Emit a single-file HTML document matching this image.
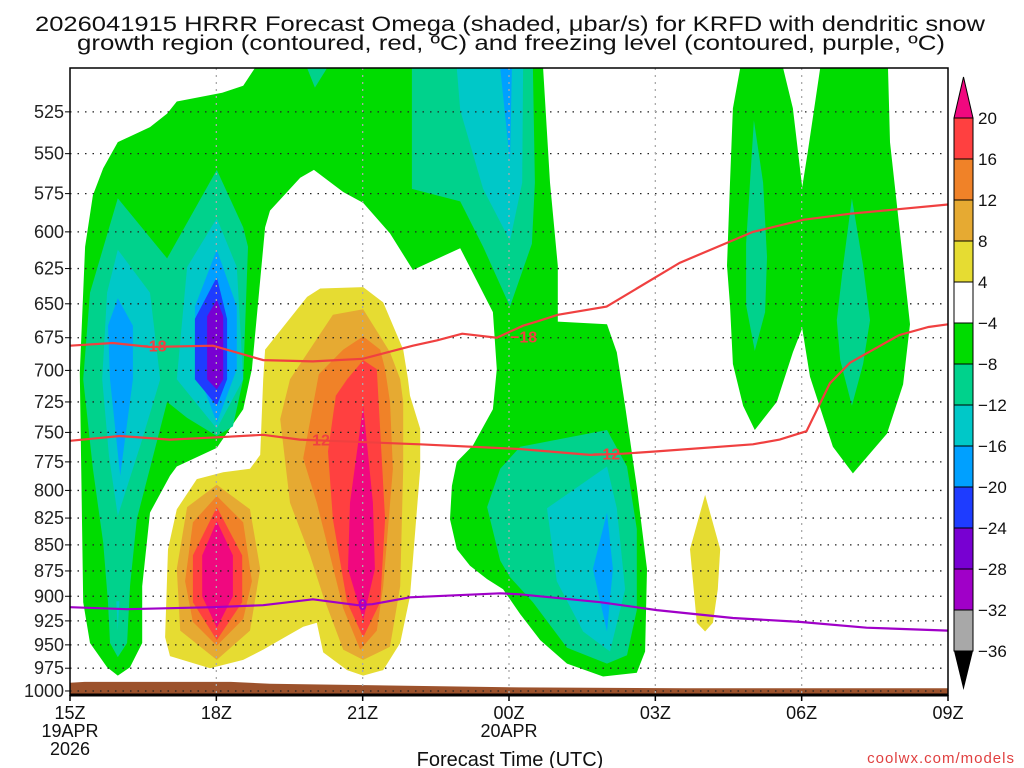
<!DOCTYPE html>
<html><head><meta charset="utf-8"><style>
html,body{margin:0;padding:0;background:#fff;}
svg{display:block;font-family:"Liberation Sans",sans-serif;}
</style></head><body>
<svg id="chart" width="1024" height="768" viewBox="0 0 1024 768" xmlns="http://www.w3.org/2000/svg">
<rect width="1024" height="768" fill="#fff"/>
<text x="35" y="31" font-size="21" fill="#111" textLength="950" lengthAdjust="spacingAndGlyphs">2026041915 HRRR Forecast Omega (shaded, μbar/s) for KRFD with dendritic snow</text>
<text x="77" y="50" font-size="21" fill="#111" textLength="868" lengthAdjust="spacingAndGlyphs">growth region (contoured, red, ºC) and freezing level (contoured, purple, ºC)</text>
<g id="shading"></g>
<g id="terrain"></g>
<g id="grid"></g>
<g id="lines"></g>
<g id="axes"></g>
<g id="cbar"></g>
<text x="510" y="766" font-size="20" fill="#111" text-anchor="middle">Forecast Time (UTC)</text>
<text x="1015" y="763" font-size="15" fill="#e04040" text-anchor="end" letter-spacing="1">coolwx.com/models</text>
</svg>
<script>
// ---- data (hours since 15Z, hPa) ----
const pressureTicks=[525,550,575,600,625,650,675,700,725,750,775,800,825,850,875,900,925,950,975,1000];
const hourTicks=[0,3,6,9,12,15,18];
const hourLabels=["15Z","18Z","21Z","00Z","03Z","06Z","09Z"];
const cbarLevels=[20,16,12,8,4,-4,-8,-12,-16,-20,-24,-28,-32,-36];
const cbarColors=["#ff4040","#f08228","#e6aa32","#e6dc32","#ffffff","#00dc00","#00d28c","#00c8c8","#00a0ff","#1e3cff","#7800d2","#a000c8","#a8a8a8"];

const greenMain=[[0.98,983],[0.76,974],[0.41,948],[0.27,906],[0.2,702],[0.31,610],[0.47,576],[0.68,559],[0.98,543],[1.64,534],[1.99,526],[2.19,519],[3.12,514],[3.55,510],[3.79,500],[9.70,500],[9.84,568],[10.0,623],[10.0,663],[11.01,665],[11.21,686],[11.38,728],[11.62,797],[11.83,873],[11.79,957],[11.62,980],[10.93,984],[10.19,970],[9.64,945],[9.23,918],[8.88,893],[8.55,883],[8.2,870],[7.93,854],[7.79,826],[7.83,796],[7.93,775],[8.26,761],[8.67,731],[8.75,699],[8.67,656],[8.0,611],[7.03,626],[6.56,601],[6.01,581],[5.60,574],[5.0,560],[4.72,565],[4.10,586],[4.0,597],[3.73,699],[3.55,731],[3.01,763],[2.19,779],[2.05,787],[1.64,820],[1.48,890],[1.48,948],[1.23,974]];
const greenRight=[[13.74,500],[14.62,500],[14.82,523],[15.01,571],[15.13,548],[15.38,500],[16.77,500],[16.81,543],[17.22,665],[17.08,711],[16.75,751],[16.05,785],[15.64,762],[15.17,705],[15.01,668],[14.82,686],[14.49,725],[14.04,748],[13.80,728],[13.59,695],[13.53,651],[13.47,623],[13.53,568],[13.59,523]];
const tealTopNotch=[[4.86,500],[5.02,511],[5.27,500]];
const tealUpper00=[[7.01,500],[7.01,572],[8.0,580],[8.47,610],[9.02,652],[9.47,608],[9.53,568],[9.49,500]];
const cyanUpper00=[[7.93,500],[8.0,524],[8.47,572],[9.02,606],[9.27,568],[9.29,500]];
const blueUpper00=[[8.82,500],[9.02,555],[9.06,500]];
const tealLeft=[[0.98,578],[0.41,642],[0.27,707],[0.47,781],[0.68,848],[0.78,906],[0.82,948],[0.98,963],[1.17,948],[1.23,890],[1.37,826],[1.99,725],[2.4,738],[3.01,753],[3.34,745],[3.55,707],[3.65,610],[3.55,597],[3.01,560],[1.99,618]];
const cyanLeft1=[[0.98,612],[0.76,642],[0.66,707],[0.8,770],[0.98,823],[1.45,760],[1.85,707],[1.64,642]];
const cyanLeft1b=[[0.95,905],[0.98,935],[1.01,905]];
const cyanLeft2=[[3.01,591],[2.40,624],[2.19,707],[3.01,747],[3.55,707],[3.42,624]];
const blueLeft1=[[0.98,646],[0.78,666],[0.82,707],[1.03,787],[1.29,707],[1.29,666]];
const blueLeft2=[[3.01,612],[2.56,652],[2.60,699],[3.01,742],[3.42,699],[3.42,652]];
const dblueLeft2=[[3.01,631],[2.56,661],[2.56,707],[3.01,728],[3.22,707],[3.22,661]];
const purpleLeft2=[[3.01,647],[2.81,659],[2.81,707],[3.01,715],[3.14,707],[3.14,659]];
const yellowCenter=[[6.01,638],[5.13,639],[4.86,645],[4.0,684],[3.96,707],[3.90,769],[3.69,781],[3.14,784],[2.60,790],[2.19,817],[2.01,854],[1.95,942],[2.05,962],[2.87,975],[3.55,966],[3.96,955],[4.78,931],[5.06,927],[5.19,958],[5.68,977],[6.01,983],[6.42,977],[6.77,948],[6.97,900],[7.18,781],[7.18,747],[6.97,720],[6.93,707],[6.83,684],[6.42,649]];
const ltOrangeCenter=[[6.01,654],[5.39,658],[4.51,707],[4.31,739],[4.51,811],[4.92,860],[5.19,900],[5.60,955],[6.01,966],[6.56,952],[6.77,890],[6.83,781],[6.83,725],[6.77,707],[6.56,686]];
const ltOrangeLeft=[[3.01,795],[2.40,815],[2.19,873],[2.26,935],[3.01,966],[3.69,935],[3.90,873],[3.69,817]];
const orangeCenter=[[6.01,674],[5.60,684],[5.1,703],[4.78,772],[5.06,811],[5.33,860],[5.60,912],[5.95,955],[6.29,935],[6.42,890],[6.62,781],[6.56,725],[6.46,699],[6.36,684]];
const orangeLeft=[[3.01,805],[2.52,829],[2.36,885],[2.52,926],[3.01,951],[3.55,923],[3.73,885],[3.55,829]];
const redCenter=[[6.01,692],[5.68,707],[5.45,720],[5.29,766],[5.39,826],[5.68,906],[6.01,942],[6.36,906],[6.46,826],[6.29,699]];
const redLeft=[[3.01,815],[2.52,860],[2.52,906],[3.01,945],[3.53,906],[3.53,860]];
const magentaCenter=[[6.01,728],[5.74,811],[5.70,873],[6.01,924],[6.25,873],[6.21,811]];
const magentaLeft=[[3.01,828],[2.71,860],[2.71,900],[3.01,932],[3.34,900],[3.34,860]];
const tealLower=[[9.23,762],[11.01,748],[11.42,779],[11.62,835],[11.62,914],[11.42,961],[11.01,970],[10.19,953],[9.49,906],[9.02,881],[8.82,865],[8.55,815],[8.82,781]];
const cyanLower=[[9.78,816],[11.01,779],[11.21,816],[11.38,893],[11.07,957],[10.52,936],[9.98,885]];
const blueLower=[[11.01,820],[11.13,873],[11.01,936],[10.72,873]];
const yellowSmall=[[13.02,804],[13.33,854],[13.28,893],[13.18,927],[13.02,936],[12.85,927],[12.71,854]];
const tealRight1=[[14.02,530],[14.21,568],[14.29,617],[14.25,656],[14.04,685],[13.86,651],[13.86,608]];
const tealRight2=[[16.03,578],[16.26,623],[16.40,662],[16.26,695],[16.03,728],[15.79,692],[15.72,662],[15.85,623]];

const terrainTop=[[0,991],[0.3,990],[3.3,990],[4.1,992],[9.2,996],[12.6,997],[18,997]];
const lineMinus18=[[0,681],[0.88,679],[1.64,682],[2.93,681],[3.96,692],[4.98,693],[6.0,691],[7.03,681],[7.52,677],[8.04,672],[8.75,675],[9.29,666],[9.57,663],[10.0,658],[11.0,652],[12.5,621],[14.0,600],[15.03,592],[16.0,588],[18,582]];
const lineMinus12=[[0,757],[1.02,753],[2.05,756],[3.07,754],[3.96,752],[4.71,756],[5.33,757],[7.17,760],[9.22,764],[10.66,769],[11.33,768],[12.03,766],[14.0,760],[14.55,756],[15.1,749],[15.58,710],[15.99,694],[17.0,673],[17.6,667],[18,665]];
const lineZero=[[0,911],[1.17,913],[2.93,911],[3.96,909],[4.98,903],[5.9,909],[6.2,908],[6.97,901],[8.82,897],[9.22,898],[10.87,906],[12.03,914],[13.59,922],[14.96,926],[16.33,932],[18,935]];
const contourLabels=[{t:"−18",h:1.7,p:681,c:"#f04040"},{t:"−18",h:9.3,p:674,c:"#f04040"},{t:"−12",h:5.05,p:756,c:"#f04040"},{t:"−12",h:11.0,p:768,c:"#f04040"},{t:"0",h:6.0,p:908,c:"#a000c8"}];

// ---- axis functions ----
const L=70,R=948,T=68,B=695,P0=500,P1=1004.5;
const X=h=>L+h*(R-L)/18;
const Y=p=>T+Math.log(p/P0)/Math.log(P1/P0)*(B-T);
const NS="http://www.w3.org/2000/svg";
function mk(tag,attrs,parent){const e=document.createElementNS(NS,tag);for(const k in attrs)e.setAttribute(k,attrs[k]);parent.appendChild(e);return e;}
const pts=a=>a.map(d=>X(d[0]).toFixed(1)+","+Y(d[1]).toFixed(1)).join(" ");

const shading=document.getElementById("shading");
const layers=[
 [greenMain,"#00dc00","omega-4-main"],[greenRight,"#00dc00","omega-4-right"],
 [tealTopNotch,"#00d28c","omega-8-notch"],[tealUpper00,"#00d28c","omega-8-upper"],[tealLeft,"#00d28c","omega-8-left"],[tealLower,"#00d28c","omega-8-lower"],[tealRight1,"#00d28c","omega-8-right1"],[tealRight2,"#00d28c","omega-8-right2"],
 [cyanUpper00,"#00c8c8","omega-12-upper"],[cyanLeft1,"#00c8c8","omega-12-left1"],[cyanLeft1b,"#00c8c8","omega-12-left1b"],[cyanLeft2,"#00c8c8","omega-12-left2"],[cyanLower,"#00c8c8","omega-12-lower"],
 [blueUpper00,"#00a0ff","omega-16-upper"],[blueLeft1,"#00a0ff","omega-16-left1"],[blueLeft2,"#00a0ff","omega-16-left2"],[blueLower,"#00a0ff","omega-16-lower"],
 [dblueLeft2,"#1e3cff","omega-20-left2"],[purpleLeft2,"#7800d2","omega-24-left2"],
 [yellowCenter,"#e6dc32","omega4-center"],[yellowSmall,"#e6dc32","omega4-small"],
 [ltOrangeCenter,"#e6aa32","omega8-center"],[ltOrangeLeft,"#e6aa32","omega8-left"],
 [orangeCenter,"#f08228","omega12-center"],[orangeLeft,"#f08228","omega12-left"],
 [redCenter,"#ff4040","omega16-center"],[redLeft,"#ff4040","omega16-left"],
 [magentaCenter,"#f0087f","omega20-center"],[magentaLeft,"#f0087f","omega20-left"]
];
const clip=mk("clipPath",{id:"plotclip"},mk("defs",{},shading));
mk("rect",{x:L,y:T,width:R-L,height:B-T},clip);
shading.setAttribute("clip-path","url(#plotclip)");
layers.forEach(l=>{
 const e=mk("polygon",{points:pts(l[0]),fill:l[1]},shading);
 
 
});

// terrain
const terr=document.getElementById("terrain");
const tp=terrainTop.map(d=>X(d[0]).toFixed(1)+","+Y(d[1]).toFixed(1)).join(" ")+" "+X(18)+","+B+" "+X(0)+","+B;
const te=mk("polygon",{points:tp,fill:"#9c522c"},terr);



// grid
const grid=document.getElementById("grid");
pressureTicks.forEach(p=>{
 const g=mk("line",{x1:L,x2:R,y1:Y(p),y2:Y(p),stroke:"#222","stroke-width":1.3,"stroke-dasharray":"1.5 6"},grid);
 
 
});
hourTicks.slice(1,-1).forEach(h=>{
 const g=mk("line",{x1:X(h),x2:X(h),y1:T,y2:B,stroke:"#aaa","stroke-width":1.3,"stroke-dasharray":"2 5"},grid);
 
 
});

// contour lines
const lines=document.getElementById("lines");
[[lineMinus18,"#f04040","isotherm-minus18"],[lineMinus12,"#f04040","isotherm-minus12"],[lineZero,"#a000c8","freezing-level-line"]].forEach(l=>{
 const e=mk("polyline",{points:pts(l[0]),fill:"none",stroke:l[1],"stroke-width":2.2},lines);
 
 
});
contourLabels.forEach(c=>{
 const t=mk("text",{x:X(c.h),y:Y(c.p)+6,"font-size":16,"font-weight":"bold",fill:c.c,"text-anchor":"middle"},lines);
 t.textContent=c.t;
 
 
});

// axes
const ax=document.getElementById("axes");
const fr=mk("rect",{x:L,y:T,width:R-L,height:B-T,fill:"none",stroke:"#000","stroke-width":1.5},ax);


mk("line",{x1:L,x2:R,y1:B,y2:B,stroke:"#000","stroke-width":3},ax);
pressureTicks.forEach(p=>{
 mk("line",{x1:L-5,x2:L,y1:Y(p),y2:Y(p),stroke:"#000","stroke-width":1},ax);
 const t=mk("text",{x:L-6,y:Y(p)+6,"font-size":18,fill:"#222","text-anchor":"end"},ax);
 t.textContent=p;
 
 
});
hourTicks.forEach((h,i)=>{
 mk("line",{x1:X(h),x2:X(h),y1:B,y2:B+6,stroke:"#000","stroke-width":1.5},ax);
 const t=mk("text",{x:X(h),y:B+24,"font-size":18,fill:"#111","text-anchor":"middle"},ax);
 t.textContent=hourLabels[i];
 
 
});
[["19APR",0,B+42],["2026",0,B+60],["20APR",9,B+42]].forEach(d=>{
 const t=mk("text",{x:X(d[1]),y:d[2],"font-size":18,fill:"#111","text-anchor":"middle"},ax);
 t.textContent=d[0];
 
 
});

// colorbar
const cb=document.getElementById("cbar");
const cx=954,cw=19,cy0=118,ch=(651-118)/13;
const tt=mk("polygon",{points:`${cx},${cy0} ${cx+cw},${cy0} ${cx+cw/2},77`,fill:"#f0087f",stroke:"#000","stroke-width":1},cb);


cbarColors.forEach((c,i)=>{
 const r=mk("rect",{x:cx,y:cy0+i*ch,width:cw,height:ch,fill:c,stroke:"#000","stroke-width":1},cb);
 
 
});
const bt=mk("polygon",{points:`${cx},${cy0+13*ch} ${cx+cw},${cy0+13*ch} ${cx+cw/2},690`,fill:"#000"},cb);


cbarLevels.forEach((v,i)=>{
 const t=mk("text",{x:978,y:cy0+i*ch+6,"font-size":17,fill:"#111"},cb);
 t.textContent=v<0?"−"+(-v):String(v);
 
 
});
</script>
</body></html>
